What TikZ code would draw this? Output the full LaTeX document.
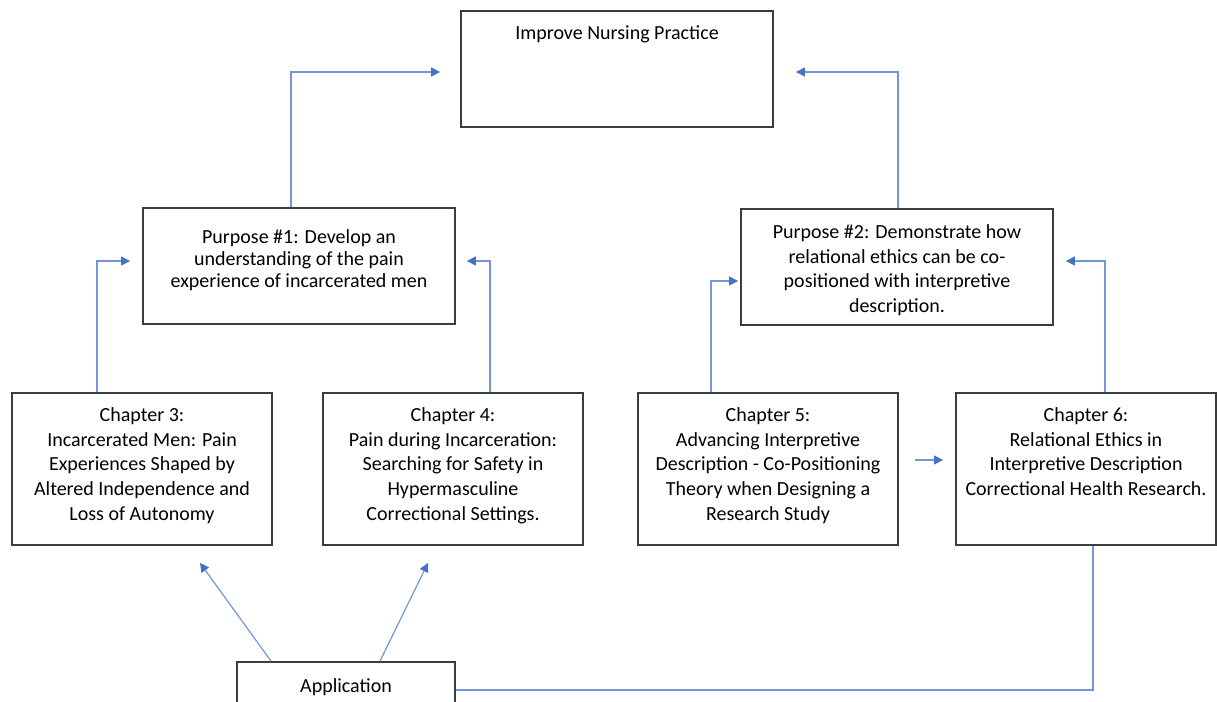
\documentclass[tikz,border=0pt]{standalone}
\usepackage{fontspec}
\setmainfont{Carlito}
\usepackage{tikz}
\usepackage{xcolor}
\usetikzlibrary{arrows.meta, positioning, calc}

\definecolor{boxgrey}{RGB}{60,60,60}
\definecolor{lineblue}{RGB}{114,150,214}
\definecolor{arrowblue}{RGB}{68,114,196}

\tikzset{
  box/.style={draw=boxgrey, line width=0.9pt, minimum width=156pt, minimum height=58pt, inner sep=0pt},
  chapbox/.style={box, minimum width=130pt, minimum height=76pt},
  intext/.style={anchor=north, align=center, inner sep=0pt, font=\fontsize{10}{12.4}\selectfont},
  arr/.style={draw=lineblue, line width=0.6pt, -{Triangle[length=4.5pt,width=4.5pt,color=arrowblue]}},
  link/.style={draw=lineblue, line width=0.6pt},
}

\begin{document}
\begin{tikzpicture}[x=0.5pt, y=-0.5pt]
\useasboundingbox (0,0) rectangle (1217,702);

% Goal
\node[box, label={[intext, yshift=-7.5pt]north:{Improve Nursing Practice}}] (top) at (617,69) {};

% Purposes
\node[box, label={[intext, yshift=-11pt, font=\fontsize{10}{11}\selectfont]north:{Purpose \#1: Develop an\\ understanding of the pain\\ experience of incarcerated men}}] (p1) at (299,266) {};
\node[box, label={[intext, yshift=-8pt]north:{Purpose \#2: Demonstrate how\\ relational ethics can be co-\\ positioned with interpretive\\ description.}}] (p2) at (897,267) {};

% Chapters
\node[chapbox, label={[intext, yshift=-7.5pt]north:{Chapter 3:\\ Incarcerated Men: Pain\\ Experiences Shaped by\\ Altered Independence and\\ Loss of Autonomy}}] (c3) at (142,469) {};
\node[chapbox, label={[intext, yshift=-7.5pt]north:{Chapter 4:\\ Pain during Incarceration:\\ Searching for Safety in\\ Hypermasculine\\ Correctional Settings.}}] (c4) at (453,469) {};
\node[chapbox, label={[intext, yshift=-7.5pt]north:{Chapter 5:\\ Advancing Interpretive\\ Description - Co-Positioning\\ Theory when Designing a\\ Research Study}}] (c5) at (768,469) {};
\node[chapbox, label={[intext, yshift=-7.5pt]north:{Chapter 6:\\ Relational Ethics in\\ Interpretive Description\\ Correctional Health Research.}}] (c6) at (1086,469) {};

% Application
\node[box, minimum width=109pt, minimum height=24pt, label={[intext, yshift=-8.5pt]north:{Application}}] (app) at (346,686) {};

% Arrows up to the goal
\draw[arr] ($(p1.north)+(-8,0)$) |- ($(top.west)+(-20,3)$);
\draw[arr] ($(p2.north)+(1,0)$) |- ($(top.east)+(22,3)$);

% Arrows up to the purposes
\draw[arr] ($(c3.north)+(-45,0)$) |- ($(p1.west)+(-12,-5)$);
\draw[arr] ($(c4.north)+(37,0)$) |- ($(p1.east)+(11,-5)$);
\draw[arr] ($(c5.north)+(-57,0)$) |- ($(p2.west)+(-2,14)$);
\draw[arr] ($(c6.north)+(19,0)$) |- ($(p2.east)+(12,-6)$);
\draw[arr] ($(c5.east)+(16,-9)$) -- ($(c6.west)+(-12,-9)$);

% Application
\draw[arr] ($(app.north)+(-75,0)$) -- ($(c3.south)+(58,17)$);
\draw[arr] ($(app.north)+(34,0)$) -- ($(c4.south)+(-25,17)$);
\draw[link] ($(c6.south)+(7,0)$) |- ($(app.east)+(0,4)$);
\end{tikzpicture}
\end{document}
